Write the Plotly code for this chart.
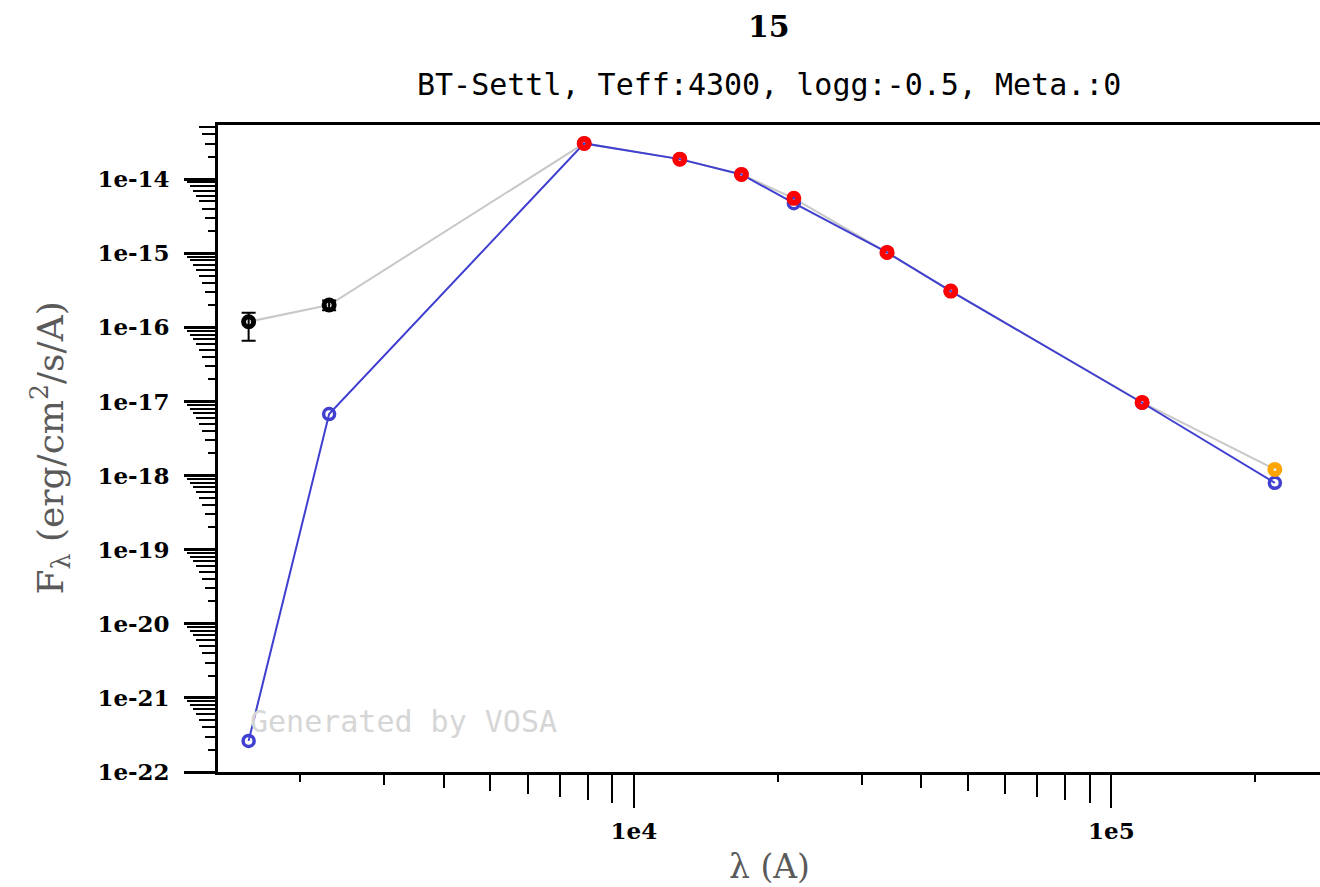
import math
import plotly.graph_objects as go

# ---------------- data ----------------
wavelength = [1560, 2300, 7870, 12480, 16800, 21630, 33900, 46100, 116000, 220000]
obs_flux = [1.19e-16, 2.0e-16, 3.03e-14, 1.86e-14, 1.157e-14, 5.5e-15, 1.025e-15, 3.08e-16, 9.7e-18, 1.21e-18]
obs_err_plus = [0.38e-16, 0.3e-16, 0, 0, 0, 0, 0, 0, 0, 0]
obs_err_minus = [0.53e-16, 0.3e-16, 0, 0, 0, 0, 0, 0, 0, 0]
model_flux = [2.63e-22, 6.75e-18, 3.03e-14, 1.86e-14, 1.157e-14, 4.74e-15, 1.025e-15, 3.08e-16, 9.6e-18, 7.98e-19]
point_kind = ["excluded", "excluded", "fit", "fit", "fit", "fit", "fit", "fit", "fit", "excess"]

y_tick_exps = list(range(-22, -13))
y_tick_labels = [f"1e{e}" for e in y_tick_exps]
x_tick_vals = [1e4, 1e5]
x_tick_labels = ["1e4", "1e5"]

title_text = "15"
subtitle_text = "BT-Settl, Teff:4300, logg:-0.5, Meta.:0"
watermark_text = "Generated by VOSA"

x_range_log = [3.129, 5.437]
y_range_log = [-22.0, -13.27]

# ---------------- figure ----------------
W, H = 1320, 887
ML, MR, MT, MB = 218, 0, 125, 115
PW = W - ML - MR
PH = H - MT - MB

fig = go.Figure()

# gray line through observed photometry
fig.add_trace(go.Scatter(
    x=wavelength, y=obs_flux, mode="lines",
    line=dict(color="#c8c8c8", width=2),
    hoverinfo="skip", showlegend=False))

# blue model line + open markers
fig.add_trace(go.Scatter(
    x=wavelength, y=model_flux, mode="lines+markers",
    line=dict(color="#3f3fd0", width=2),
    marker=dict(symbol="circle-open", size=11, color="#3f3fd0",
                line=dict(width=3.5, color="#3f3fd0")),
    showlegend=False))

styles = {
    "excluded": dict(color="#000000", size=10, width=5),
    "fit": dict(color="#ff0000", size=9, width=6),
    "excess": dict(color="#ffa500", size=9, width=6),
}
for kind, st in styles.items():
    idx = [i for i, k in enumerate(point_kind) if k == kind]
    if not idx:
        continue
    xs = [wavelength[i] for i in idx]
    ys = [obs_flux[i] for i in idx]
    tr = dict(
        x=xs, y=ys, mode="markers",
        marker=dict(symbol="circle-open", size=st["size"], color=st["color"],
                    line=dict(width=st["width"], color=st["color"])),
        showlegend=False)
    if kind == "excluded":
        tr["error_y"] = dict(type="data", symmetric=False,
                             array=[obs_err_plus[i] for i in idx],
                             arrayminus=[obs_err_minus[i] for i in idx],
                             color="#000000", thickness=2, width=7)
    fig.add_trace(go.Scatter(**tr))

# ---------------- axes ----------------
tickfont = dict(family="DejaVu Serif", size=23, color="#000000", weight="bold")

fig.update_layout(
    xaxis=dict(type="log", range=x_range_log, domain=[0, 1],
               showline=True, linewidth=2.5, linecolor="#000000", mirror=True,
               ticks="outside", ticklen=33, tickwidth=2, tickcolor="#000000",
               tickmode="array", tickvals=x_tick_vals, ticktext=x_tick_labels,
               tickfont=tickfont, showgrid=False, zeroline=False,
               ticklabelstandoff=4),
    yaxis=dict(type="log", range=y_range_log, domain=[0, 1],
               showline=True, linewidth=2.5, linecolor="#000000",
               ticks="outside", ticklen=31, tickwidth=2.5, tickcolor="#000000",
               tickmode="array", tickvals=[10.0 ** e for e in y_tick_exps],
               ticktext=y_tick_labels,
               tickfont=tickfont, showgrid=False, zeroline=False,
               ticklabelstandoff=10),
)

# graded minor ticks (length grows with the mantissa) via overlay axes
extra = {}
for k in range(2, 10):
    xv = [k * 10.0 ** d for d in range(3, 6)
          if x_range_log[0] <= math.log10(k * 10.0 ** d) <= x_range_log[1]]
    yv = [k * 10.0 ** d for d in range(-22, -12)
          if y_range_log[0] <= math.log10(k * 10.0 ** d) <= y_range_log[1]]
    L = 3 * k + 3
    extra[f"xaxis{k}"] = dict(type="log", range=x_range_log, overlaying="x",
                              anchor="y", side="bottom",
                              tickmode="array", tickvals=xv, ticks="outside",
                              ticklen=L, tickwidth=2, tickcolor="#000000",
                              showticklabels=False, showgrid=False,
                              showline=False, zeroline=False)
    extra[f"yaxis{k}"] = dict(type="log", range=y_range_log, overlaying="y",
                              anchor="x", side="left",
                              tickmode="array", tickvals=yv, ticks="outside",
                              ticklen=L, tickwidth=2, tickcolor="#000000",
                              showticklabels=False, showgrid=False,
                              showline=False, zeroline=False)
    fig.add_trace(go.Scatter(x=[None], y=[None], xaxis=f"x{k}", yaxis="y",
                             mode="markers", hoverinfo="skip", showlegend=False))
    fig.add_trace(go.Scatter(x=[None], y=[None], xaxis="x", yaxis=f"y{k}",
                             mode="markers", hoverinfo="skip", showlegend=False))
fig.update_layout(**extra)

# ---------------- text ----------------
def px_x(px):
    return (px - ML) / PW

def px_y(py):
    return (H - MB - py) / PH

annotations = [
    dict(text=f"<b>{title_text}</b>", x=0.5, y=px_y(26), xref="paper", yref="paper",
         xanchor="center", yanchor="middle", showarrow=False,
         font=dict(family="DejaVu Serif", size=30, color="#000000")),
    dict(text=subtitle_text, x=0.5, y=px_y(85), xref="paper", yref="paper",
         xanchor="center", yanchor="middle", showarrow=False,
         font=dict(family="DejaVu Sans Mono", size=30, color="#000000")),
    dict(text=watermark_text, x=px_x(403), y=px_y(721), xref="paper", yref="paper",
         xanchor="center", yanchor="middle", showarrow=False,
         font=dict(family="DejaVu Sans Mono", size=30, color="#d6d6d6")),
    dict(text="λ (A)", x=0.5, y=px_y(866), xref="paper", yref="paper",
         xanchor="center", yanchor="middle", showarrow=False,
         font=dict(family="DejaVu Serif", size=33, color="#5a5a5a")),
    dict(text="F<sub>λ</sub> (erg/cm<sup>2</sup>/s/A)", x=px_x(50), y=0.5,
         xref="paper", yref="paper", textangle=-90,
         xanchor="center", yanchor="middle", showarrow=False,
         font=dict(family="DejaVu Serif", size=36, color="#5a5a5a")),
]

fig.update_layout(
    width=W, height=H,
    margin=dict(l=ML, r=MR, t=MT, b=MB, autoexpand=False),
    paper_bgcolor="#ffffff", plot_bgcolor="#ffffff",
    annotations=annotations,
    showlegend=False,
)

fig.write_html("out.html")
